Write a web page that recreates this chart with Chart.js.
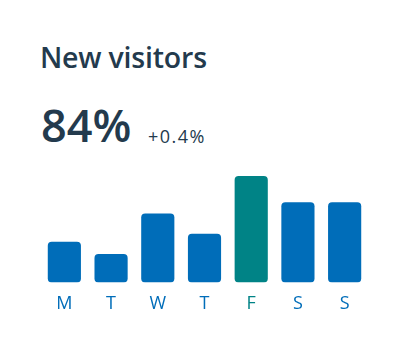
<!DOCTYPE html>
<html>
<head>
<meta charset="utf-8">
<script src="https://cdn.jsdelivr.net/npm/chart.js@4"></script>
<style>
    body { margin: 0; background: #fff; font-family: "Open Sans", sans-serif; }
    .card { position: relative; width: 412px; height: 355px; overflow: hidden; }
    .title { position: absolute; left: 40px; top: 38px; font-size: 28.5px; font-weight: 600; color: #233a4d; line-height: 38px; letter-spacing: -0.2px; }
    .value { position: absolute; left: 41px; top: 95px; font-size: 45px; font-weight: 600; color: #233a4d; line-height: 60px; }
    .delta { position: absolute; left: 148px; top: 124px; font-size: 18px; color: #233a4d; letter-spacing: 1.5px; line-height: 24px; }
    .chart-box { position: absolute; left: 0; top: 170px; width: 412px; height: 156px; }
</style>
</head>
<body>
<div class="card">
    <div class="title">New visitors</div>
    <div class="value">84%</div>
    <div class="delta">+0.4%</div>
    <div class="chart-box"><canvas id="visitors"></canvas></div>
</div>
<script>
var days = ['M', 'T', 'W', 'T', 'F', 'S', 'S'];
var visitors = [40, 28, 68, 48, 105, 79, 79];
var highlightDay = 4;

var blue = '#006db9';
var teal = '#008386';

var barColors = days.map(function (d, i) { return i == highlightDay ? teal : blue; });

const ctx = document.getElementById('visitors');

new Chart(ctx, {
    type: 'bar',
    data: {
        labels: days,
        datasets: [{
            data: visitors,
            backgroundColor: barColors,
            borderRadius: 4,
            borderSkipped: false,
            categoryPercentage: 1,
            barPercentage: 0.71
        }]
    },
    options: {
        responsive: true,
        maintainAspectRatio: false,
        animation: false,
        layout: { padding: { left: 41, right: 44, top: 6, bottom: 0 } },
        plugins: { legend: { display: false }, tooltip: { enabled: false } },
        scales: {
            x: {
                grid: { display: false, drawTicks: false },
                border: { display: false },
                ticks: {
                    color: barColors,
                    padding: 11,
                    font: { family: 'Open Sans', size: 18 }
                }
            },
            y: { display: false, min: 0, max: 105 }
        }
    }
});
</script>
</body>
</html>
